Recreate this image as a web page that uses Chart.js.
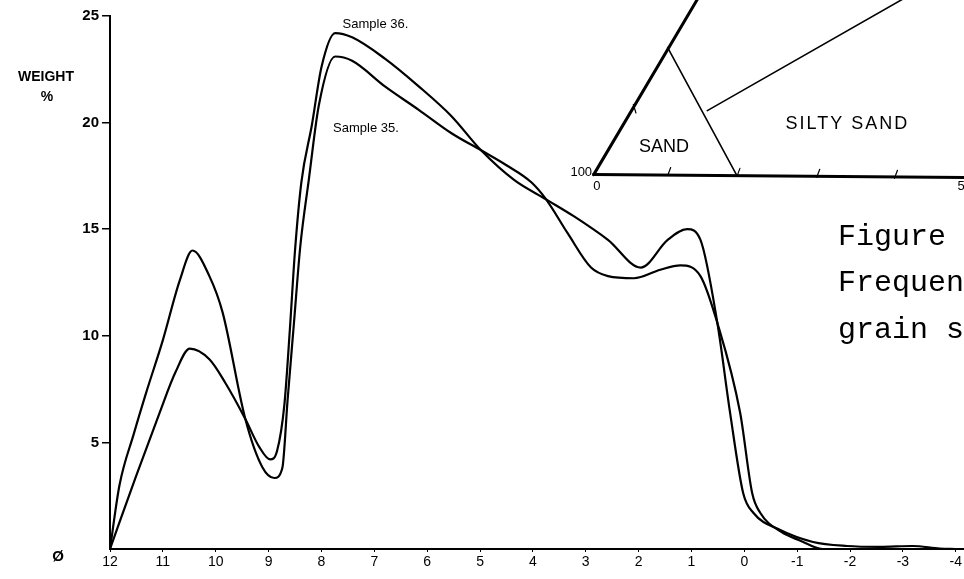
<!DOCTYPE html>
<html lang="en">
<head>
    <meta charset="UTF-8">
    <title>Grain size frequency curves</title>
    <script src="https://cdn.jsdelivr.net/npm/chart.js"></script>
    <style>
        body {
            margin: 0;
            background: #fff;
        }
        #chart {
            display: block;
        }
    </style>
</head>
<body>
    <canvas id="chart" width="964" height="579"></canvas>

    <script>
        // phi size classes (x) and weight % (y)
        const xTicks = [12, 11, 10, 9, 8, 7, 6, 5, 4, 3, 2, 1, 0, -1, -2, -3, -4];
        const yTicks = [0, 5, 10, 15, 20, 25];

        const sample36Phi = [12, 11.51, 11.06, 10.76, 10.49, 10.12, 9.82, 9.44, 9.18, 8.97, 8.84, 8.7, 8.6, 8.5, 8.38, 8.18, 8.0, 7.74, 7.42, 6.8, 6.16, 5.54, 4.98, 4.35, 3.75, 3.22, 2.58, 1.96, 1.45, 1.08, 0.83, 0.51, 0.27, 0.02, -0.17, -0.67, -1.3, -1.94, -2.56, -3.18, -3.7, -4];
        const sample36Weight = [0, 3.4, 6.4, 8.3, 9.4, 8.9, 7.8, 6.1, 4.8, 4.2, 4.6, 6.8, 10.2, 14.0, 17.2, 19.9, 22.6, 24.2, 24.0, 23.0, 21.7, 20.3, 18.7, 17.3, 16.4, 15.6, 14.5, 13.2, 14.5, 15.0, 14.5, 10.6, 6.4, 2.6, 1.7, 0.9, 0.33, 0.14, 0.1, 0.14, 0.02, 0];

        const sample35Phi = [12, 11.82, 11.55, 11.32, 11.0, 10.68, 10.44, 10.12, 9.87, 9.44, 9.12, 8.89, 8.74, 8.64, 8.52, 8.4, 8.24, 8.05, 7.74, 7.42, 6.8, 6.16, 5.54, 4.98, 4.5, 4.03, 3.75, 3.34, 2.9, 2.58, 2.09, 1.59, 1.21, 0.83, 0.51, 0.08, -0.15, -0.3, -0.7, -1.05, -1.48, -2, -3, -4];
        const sample35Weight = [0, 3.0, 5.4, 7.3, 9.8, 12.6, 14.0, 12.8, 11.1, 6.1, 3.85, 3.33, 3.8, 7.0, 10.6, 14.2, 17.3, 20.8, 23.1, 22.9, 21.7, 20.6, 19.5, 18.7, 18.0, 17.2, 16.4, 14.8, 13.2, 12.8, 12.7, 13.1, 13.3, 12.8, 10.6, 6.4, 2.6, 1.7, 0.8, 0.4, 0, 0, 0, 0];

        // inset triangle diagram, in chart units (phi, weight)
        const insetThick = [
            [[2.85, 17.56], [0.61, 26.95]],
            [[2.85, 17.56], [-4.2, 17.42]]
        ];
        const insetThin = [
            [[1.45, 23.52], [0.14, 17.51]],
            [[0.70, 20.56], [-3.78, 26.9]]
        ];
        const insetTicks = [1.45, 0.14, -1.37, -2.84];

        function toPoints(xs, ys) {
            return xs.map((x, i) => ({ x: x, y: ys[i] }));
        }

        const labelFont = '"Liberation Sans", Arial, sans-serif';

        const annotations = {
            id: 'annotations',
            afterDraw(chart) {
                const ctx = chart.ctx;
                const sx = chart.scales.x;
                const sy = chart.scales.y;
                const px = v => sx.getPixelForValue(v);
                const py = v => sy.getPixelForValue(v);

                ctx.save();
                ctx.strokeStyle = '#000';
                ctx.fillStyle = '#000';
                ctx.lineCap = 'round';

                // the baseline runs on to the page edge
                ctx.lineWidth = 2;
                ctx.beginPath();
                ctx.moveTo(px(-4), py(0));
                ctx.lineTo(chart.width, py(0));
                ctx.stroke();

                // inset lines
                ctx.lineWidth = 3;
                insetThick.forEach(seg => {
                    ctx.beginPath();
                    ctx.moveTo(px(seg[0][0]), py(seg[0][1]));
                    ctx.lineTo(px(seg[1][0]), py(seg[1][1]));
                    ctx.stroke();
                });
                ctx.lineWidth = 1.6;
                insetThin.forEach(seg => {
                    ctx.beginPath();
                    ctx.moveTo(px(seg[0][0]), py(seg[0][1]));
                    ctx.lineTo(px(seg[1][0]), py(seg[1][1]));
                    ctx.stroke();
                });
                ctx.lineWidth = 1.2;
                insetTicks.forEach(t => {
                    const x = px(t);
                    const y = py(17.56 - 0.03 * (2.85 - t));
                    ctx.beginPath();
                    ctx.moveTo(x, y);
                    ctx.lineTo(x + 3, y - 8);
                    ctx.stroke();
                });
                // small tick on the left edge of the triangle
                ctx.beginPath();
                ctx.moveTo(px(2.1), py(20.85));
                ctx.lineTo(px(2.05), py(20.45));
                ctx.stroke();

                ctx.textBaseline = 'middle';
                ctx.font = '13px ' + labelFont;
                ctx.textAlign = 'right';
                ctx.fillText('100', px(2.88), py(17.65));
                ctx.textAlign = 'center';
                ctx.fillText('0', px(2.79), py(17.0));
                ctx.fillText('5', px(-4.1), py(17.0));

                ctx.font = '18px ' + labelFont;
                ctx.fillText('SAND', px(1.52), py(18.87));
                ctx.letterSpacing = '2px';
                ctx.fillText('SILTY SAND', px(-1.95), py(19.95));
                ctx.letterSpacing = '0px';

                // curve labels
                ctx.textAlign = 'left';
                ctx.font = '13px ' + labelFont;
                ctx.fillText('Sample 36.', px(7.6), py(24.6));
                ctx.fillText('Sample 35.', px(7.78), py(19.75));

                // axis title
                ctx.textAlign = 'center';
                ctx.font = 'bold 14px ' + labelFont;
                ctx.fillText('WEIGHT', 46, py(22.15));
                ctx.fillText('%', 47, py(21.2));

                // slashed zero at the origin
                ctx.font = 'bold 15px ' + labelFont;
                ctx.fillText('Ø', 58, py(-0.35));

                // typed caption, cut off by the page edge
                ctx.textAlign = 'left';
                ctx.textBaseline = 'alphabetic';
                ctx.font = '30px "Courier New", "Liberation Mono", monospace';
                ctx.fillText('Figure', 838, py(14.28));
                ctx.fillText('Frequen', 838, py(12.08));
                ctx.fillText('grain s', 838, py(9.9));

                ctx.restore();
            }
        };

        new Chart(document.getElementById('chart'), {
            type: 'line',
            data: {
                datasets: [
                    {
                        label: 'Sample 36.',
                        data: toPoints(sample36Phi, sample36Weight),
                        borderColor: '#000',
                        borderWidth: 2.2,
                        pointRadius: 0,
                        cubicInterpolationMode: 'monotone',
                        fill: false
                    },
                    {
                        label: 'Sample 35.',
                        data: toPoints(sample35Phi, sample35Weight),
                        borderColor: '#000',
                        borderWidth: 2.2,
                        pointRadius: 0,
                        cubicInterpolationMode: 'monotone',
                        fill: false
                    }
                ]
            },
            options: {
                responsive: false,
                animation: false,
                layout: {
                    padding: { top: 16, right: 7, left: 0, bottom: 0 }
                },
                plugins: {
                    legend: { display: false },
                    tooltip: { enabled: false }
                },
                scales: {
                    x: {
                        type: 'linear',
                        reverse: true,
                        min: -4,
                        max: 12,
                        afterBuildTicks: scale => {
                            scale.ticks = xTicks.map(v => ({ value: v }));
                        },
                        afterFit: scale => {
                            scale.height = 30;
                        },
                        border: { display: true, color: '#000', width: 2 },
                        grid: {
                            drawOnChartArea: false,
                            drawTicks: true,
                            tickLength: 3,
                            color: '#000',
                            lineWidth: 1
                        },
                        ticks: {
                            color: '#000',
                            padding: 2,
                            maxRotation: 0,
                            autoSkip: false,
                            font: { family: labelFont, size: 14 }
                        }
                    },
                    y: {
                        min: 0,
                        max: 25,
                        afterBuildTicks: scale => {
                            scale.ticks = yTicks.map(v => ({ value: v }));
                        },
                        afterFit: scale => {
                            scale.width = 110;
                        },
                        border: { display: true, color: '#000', width: 2 },
                        grid: {
                            drawOnChartArea: false,
                            drawTicks: true,
                            tickLength: 8,
                            color: c => (c.tick && c.tick.value === 0 ? 'rgba(0,0,0,0)' : '#000'),
                            lineWidth: 1.5
                        },
                        ticks: {
                            color: '#000',
                            padding: 3,
                            font: { family: labelFont, size: 15, weight: 'bold' },
                            callback: v => (v === 0 ? '' : String(v))
                        }
                    }
                }
            },
            plugins: [annotations]
        });
    </script>
</body>
</html>
